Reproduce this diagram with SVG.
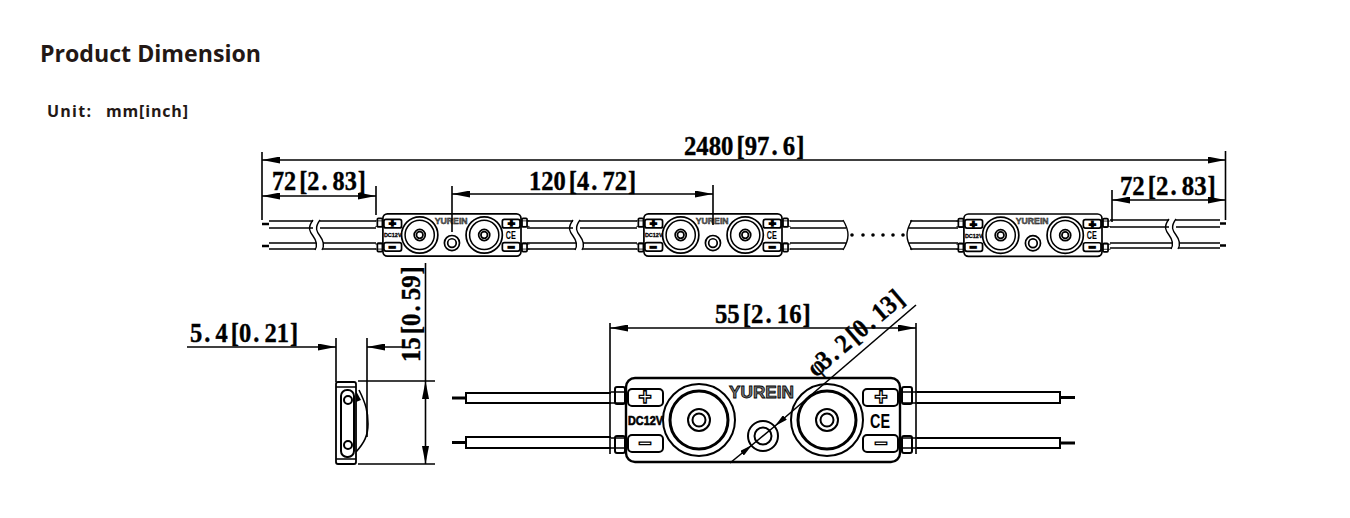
<svg xmlns="http://www.w3.org/2000/svg" width="1350" height="518" viewBox="0 0 1350 518">
<style>
.ln{fill:none;stroke:#000;stroke-width:1.6}
.w{fill:none;stroke:#000;stroke-width:1.4}
.dim{font-family:"Liberation Serif","DejaVu Serif",serif;font-weight:700;font-size:24px;fill:#000;stroke:#000;stroke-width:.35}
.head{font-family:"Open Sans","Noto Sans",sans-serif;font-weight:700;fill:#231815}
.a{marker-end:url(#arr)}
.aa{marker-start:url(#arr);marker-end:url(#arr)}
.o{fill:#fff;stroke:#000;stroke-width:var(--sw,2.4)}
.t{fill:none;stroke:#000;stroke-width:var(--sw,2)}
.s{font-family:"Liberation Sans",Arial,sans-serif;font-weight:700}
.sym{font-size:23px;text-anchor:middle;fill:#fff;stroke:#000;stroke-width:var(--sw,1.3)}
</style>
<defs>
<marker id="arr" markerUnits="userSpaceOnUse" markerWidth="18" markerHeight="7" viewBox="0 0 18 7" refX="18" refY="3.5" orient="auto-start-reverse"><path d="M0 0L18 3.5L0 7Z"/></marker>
<marker id="arrs" markerUnits="userSpaceOnUse" markerWidth="13" markerHeight="6" viewBox="0 0 13 6" refX="13" refY="3" orient="auto"><path d="M0 0L13 3L0 6Z"/></marker>
<g id="art">
<rect class="o" x="626" y="378" width="274" height="84" rx="9"/>
<rect class="t" x="615" y="387" width="10" height="17" rx="2"/><rect class="t" x="615" y="436" width="10" height="17" rx="2"/>
<rect class="t" x="902" y="387" width="10" height="17" rx="2"/><rect class="t" x="902" y="436" width="10" height="17" rx="2"/>
<path class="ln" d="M611 392H625M611 403H625M611 438H625M611 448H625M902 392H917M902 403H917M902 438H917M902 448H917"/>
<rect class="t" x="628" y="389" width="35" height="17" rx="4"/><rect class="t" x="628" y="435" width="35" height="17" rx="4"/>
<rect class="t" x="863" y="389" width="35" height="17" rx="4"/><rect class="t" x="863" y="435" width="35" height="17" rx="4"/>
<text class="s sym" x="645" y="405">+</text>
<text class="s sym" x="881" y="405">+</text>
<text class="s sym" x="645" y="451">−</text>
<text class="s sym" x="881" y="451">−</text>
<text class="s" x="628" y="425" font-size="12" textLength="35" lengthAdjust="spacingAndGlyphs" stroke="#000" stroke-width=".6">DC12V</text>
<text class="s" x="870" y="428" font-size="21" textLength="20" lengthAdjust="spacingAndGlyphs">CE</text>
<text class="s" x="729" y="398" font-size="17" textLength="65" lengthAdjust="spacingAndGlyphs" fill="#777" stroke="#000" stroke-width=".8">YUREIN</text>
<circle class="t" cx="699" cy="420" r="36"/><circle cx="699" cy="420" r="29" fill="none" stroke="#000" stroke-width="3"/><circle class="t" cx="699" cy="420" r="11"/><circle class="t" cx="699" cy="420" r="6.5"/>
<circle class="t" cx="827" cy="420" r="36"/><circle cx="827" cy="420" r="29" fill="none" stroke="#000" stroke-width="3"/><circle class="t" cx="827" cy="420" r="11"/><circle class="t" cx="827" cy="420" r="6.5"/>
<circle class="t" cx="763" cy="436" r="15"/><circle class="t" cx="763" cy="436" r="8.5"/>
</g>
</defs>
<rect width="1350" height="518" fill="#fff"/>
<text class="head" x="40" y="62" font-size="23" textLength="221" lengthAdjust="spacingAndGlyphs">Product Dimension</text>
<text class="head" x="47" y="117" font-size="16" textLength="44">Unit:</text>
<text class="head" x="106" y="117" font-size="16" textLength="82">mm[inch]</text>

<g id="wires">
<path class="w" d="M269 221H313M269 228H313M269 243H316M269 249H316M320 221H376M320 228H376M323 243H376M323 249H376"/>
<path class="w" d="M313 220c-6 8-3 12 0 16s5 9 2 14M320 220c-6 8-3 12 0 16s5 9 2 14"/>
<path fill="none" stroke="#000" stroke-width="2.6" d="M262 224H269M262 246H269M1220 223.500H1226M1220 245.500H1226"/>
<path class="w" d="M527 221H573M527 228H573M527 243H576M527 249H576M580 221H637M580 228H637M583 243H637M583 249H637"/>
<path class="w" d="M573 220c-6 8-3 12 0 16s5 9 2 14M580 220c-6 8-3 12 0 16s5 9 2 14"/>
<path class="w" d="M790 221H843M790 228H846M790 243H846M790 249H843M843 220c3 5 5 10 5 15s-2 10-5 15M912 220c-3 5-5 10-5 15s2 10 5 15M910 221H958M908 228H958M908 243H958M910 249H958"/>
<path class="w" d="M1110 220H1169M1110 227H1169M1110 243H1172M1110 248H1172M1176 220H1220M1176 227H1220M1179 243H1220M1179 248H1220"/>
<path class="w" d="M1169 219c-6 8-3 12 0 16s5 9 2 14M1176 219c-6 8-3 12 0 16s5 9 2 14"/>
<path d="M852 235h.01M863 235h.01M873 235h.01M883 235h.01M893 235h.01M903 235h.01" fill="none" stroke="#000" stroke-width="3.600" stroke-linecap="round"/>
<path fill="none" stroke="#000" stroke-width="2" d="M466 393H611M466 403H611M466 392V404M466 437H611M466 448H611M466 436V449M917 392H1060M917 403H1060M1060 391V404M917 438H1060M917 448H1060M1060 437V449"/>
<path d="M452 398H466M452 442.500H466M1060 397.500H1075M1060 443H1075" fill="none" stroke="#000" stroke-width="3"/>
</g>

<g id="module-1" style="--sw:3.4"><use href="#art" transform="translate(67.400 23.300) scale(.504)"/></g>
<g id="module-2" style="--sw:3.4"><use href="#art" transform="translate(328.400 23.300) scale(.504)"/></g>
<g id="module-3" style="--sw:3.4"><use href="#art" transform="translate(648.400 23.500) scale(.504)"/></g>
<g id="module-large"><use href="#art"/></g>

<g id="module-side">
<path class="ln" d="M359 390C366 404 368 412 368 424C368 436 364 443 356 452"/>
<path d="M356 391L361 400L356 402Z"/>
<rect x="336" y="382" width="20" height="82" rx="2" fill="#fff" stroke="#000" stroke-width="1.8"/>
<path class="ln" d="M336 387H356M336 459H356"/>
<rect class="t" x="341" y="390" width="13" height="67" rx="6"/>
<circle class="t" cx="348" cy="400" r="4"/><circle class="t" cx="348" cy="445" r="4"/>
</g>

<g id="connectors">
<path class="ln" d="M262 152V220M1225.500 151V220M376 186V215M452 186V232M713 185V225M1112 190V222"/>
<line class="ln aa" x1="262" y1="160" x2="1225.500" y2="160"/>
<line class="ln aa" x1="262" y1="196" x2="376" y2="196"/>
<line class="ln aa" x1="452" y1="194" x2="713" y2="194"/>
<line class="ln aa" x1="1112" y1="200" x2="1225.500" y2="200"/>
<path class="ln" d="M610 323V454M916 323V454"/>
<line class="ln aa" x1="610" y1="328" x2="916" y2="328"/>
<path class="ln" d="M336 338V382M367 338V437M358 381H435M358 464H435"/>
<line class="ln a" x1="187" y1="347" x2="336" y2="347"/>
<line class="ln a" x1="403" y1="347" x2="367" y2="347"/>
<line class="ln aa" x1="425.500" y1="381" x2="425.500" y2="464"/>
<line x1="425.500" y1="263" x2="425.500" y2="381" class="ln"/>
<line x1="916" y1="305" x2="775" y2="426" stroke="#000" stroke-width="1.6" marker-end="url(#arrs)"/>
<line x1="730" y1="463" x2="752" y2="445" stroke="#000" stroke-width="1.6" marker-end="url(#arrs)"/>
<line class="ln" x1="775" y1="426" x2="752" y2="445"/>
</g>

<g id="labels">
<text class="dim" transform="translate(684 155) scale(1.03 1.1)" x="0 12 24 36 51 59 71 85 91 96 109">2480[97. 6]</text>
<text class="dim" transform="translate(272 190) scale(1.01 1.1)" x="0 12 27 35 49 55 60 72 85">72[2. 83]</text>
<text class="dim" transform="translate(529 190) scale(1.02 1.1)" x="0 12 24 39 47 61 67 72 84 97">120[4. 72]</text>
<text class="dim" transform="translate(1120 195) scale(1.03 1.1)" x="0 12 27 35 49 55 60 72 85">72[2. 83]</text>
<text class="dim" transform="translate(190 342) scale(1.02 1.1)" x="0 14 20 25 40 48 62 68 73 85 98">5. 4[0. 21]</text>
<text class="dim" transform="translate(715 323) scale(1.03 1.1)" x="0 12 27 35 49 55 60 72 85">55[2. 16]</text>
<text class="dim" transform="translate(420 362) rotate(-90) scale(1.03 1.1)" x="0 12 27 35 49 55 60 72 85">15[0. 59]</text>
<text class="dim" transform="translate(816 378) rotate(-40.500) scale(1 1.1)" x="0 12 26 32 37 52 60 74 80 85 97 110">φ3. 2[0. 13]</text>
</g>
</svg>
